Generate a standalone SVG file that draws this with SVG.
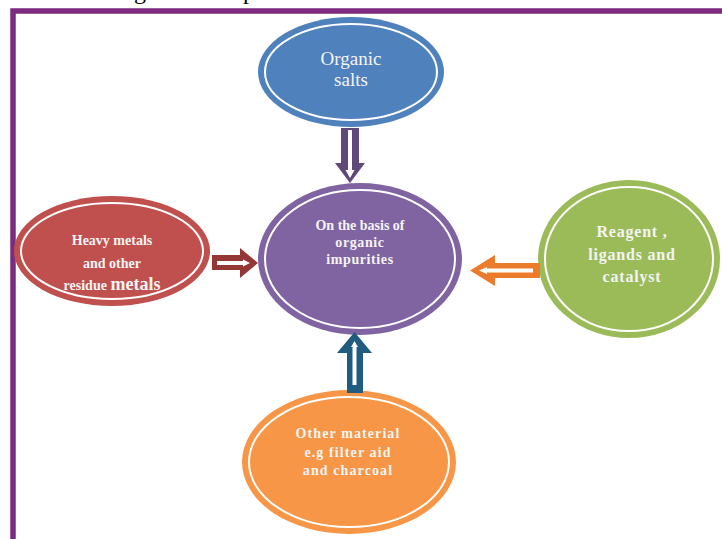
<svg xmlns="http://www.w3.org/2000/svg" width="722" height="539" viewBox="0 0 722 539">
<style>
.ring{fill:none;stroke:#ffffff;stroke-width:2}
.lbl{font-family:"Liberation Serif","Times New Roman",serif;fill:#f4f4f4;text-anchor:middle;font-weight:bold}
.frag{font-family:"Liberation Serif","Times New Roman",serif;font-size:24px;fill:#000}
</style>
<rect width="722" height="539" fill="#ffffff"/>
<text class="frag" x="134" y="-1">g</text>
<text class="frag" x="243" y="-1">p</text>
<path d="M13,539 V11 H722" fill="none" stroke="#7B2B80" stroke-width="5.5"/>

<g id="organic-salts">
<ellipse cx="351" cy="72" rx="93" ry="55" fill="#4F81BD"/>
<ellipse class="ring" cx="351" cy="72" rx="86" ry="48"/>
<text x="351" y="65" font-family="Liberation Serif, Times New Roman, serif" font-size="19" fill="#f4f4f4" text-anchor="middle">Organic</text>
<text x="351" y="86" font-family="Liberation Serif, Times New Roman, serif" font-size="19" fill="#f4f4f4" text-anchor="middle">salts</text>
</g>

<g id="center">
<ellipse cx="360" cy="259" rx="102" ry="76" fill="#8064A2"/>
<ellipse class="ring" cx="360" cy="259" rx="95" ry="69"/>
<text class="lbl" x="360" y="230" font-size="14">On the basis of</text>
<text class="lbl" x="360" y="247" font-size="14" letter-spacing="0.6">organic</text>
<text class="lbl" x="360" y="264" font-size="14" letter-spacing="0.6">impurities</text>
</g>

<g id="heavy-metals">
<ellipse cx="112" cy="251" rx="98" ry="55" fill="#C0504D"/>
<ellipse class="ring" cx="112" cy="251" rx="91" ry="48"/>
<text class="lbl" x="112" y="245" font-size="14">Heavy metals</text>
<text class="lbl" x="112" y="268" font-size="14">and other</text>
<text class="lbl" x="112" y="290" font-size="14">residue <tspan font-size="18">metals</tspan></text>
</g>

<g id="reagent">
<ellipse cx="629" cy="259" rx="91" ry="79" fill="#9BBB59"/>
<ellipse class="ring" cx="629" cy="259" rx="84" ry="72"/>
<text class="lbl" x="632" y="237" font-size="16" letter-spacing="0.8">Reagent ,</text>
<text class="lbl" x="632" y="260" font-size="16" letter-spacing="0.8">ligands and</text>
<text class="lbl" x="632" y="282" font-size="16" letter-spacing="0.8">catalyst</text>
</g>

<g id="other-material">
<ellipse cx="349" cy="462" rx="107" ry="72" fill="#F79646"/>
<ellipse class="ring" cx="349" cy="462" rx="100" ry="65"/>
<text class="lbl" x="348" y="438" font-size="14" letter-spacing="1.1">Other material</text>
<text class="lbl" x="348" y="457" font-size="14" letter-spacing="1.1">e.g filter aid</text>
<text class="lbl" x="348" y="475" font-size="14" letter-spacing="1.1">and charcoal</text>
</g>

<g id="connectors">
<polygon points="341,128 359,128 359,163 365,163 350,183 335,163 341,163" fill="#5F497A"/>
<polygon points="348,130 352,130 352,170 354.5,170 350,178 345.5,170 348,170" fill="#ffffff"/>

<polygon points="212,255 240,255 240,248 258,263 240,278 240,270 212,270" fill="#953735"/>
<polygon points="217,261 243,261 243,259.5 250,263 243,266.5 243,265 217,265" fill="#ffffff"/>

<polygon points="540,263 495,263 495,255 470,270.5 495,286 495,278 540,278" fill="#EC7C2C"/>
<polygon points="533,268.5 487,268.5 487,267 479,270.5 487,274 487,272.5 533,272.5" fill="#ffffff"/>

<polygon points="347,393 363,393 363,353 372,353 354.5,332 337,353 347,353" fill="#1F5C7F"/>
<polygon points="352.5,385 356.5,385 356.5,347 358,347 354.5,341 351,347 352.5,347" fill="#ffffff"/>
</g>
</svg>
